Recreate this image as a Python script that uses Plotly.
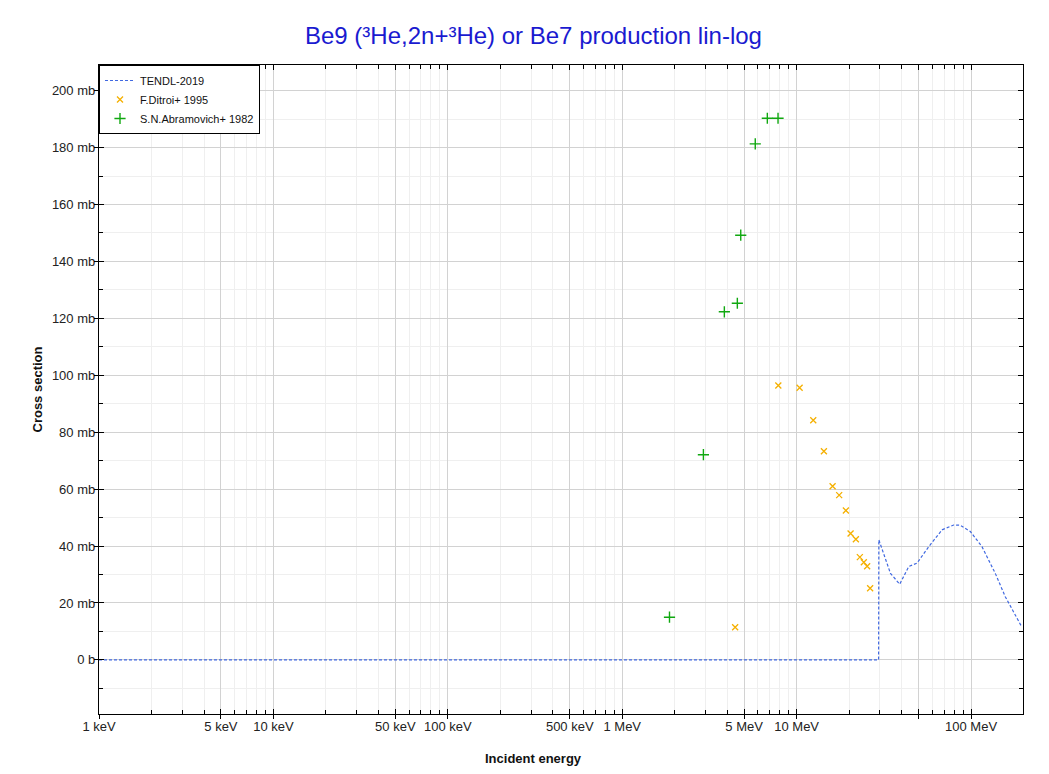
import plotly.graph_objects as go
import numpy as np

# ---------------- data (energies in MeV, cross sections in mb) ----------------
tendl_energy = [0.001, 29.5, 29.6, 34.5, 39.0, 43.9, 49.0, 57.2, 68.2, 79.5, 86.9,
                99.1, 115.5, 137.7, 157.1, 194.1]
tendl_xs = [0.0, 0.0, 42.2, 30.4, 26.6, 32.8, 34.0, 39.8, 45.7, 47.4, 47.3,
            45.1, 39.8, 30.4, 22.2, 11.9]

ditroi_energy = [4.44, 7.85, 10.4, 12.45, 14.33, 16.07, 17.53, 19.15, 20.38,
                 21.85, 23.03, 24.27, 25.36, 26.38]
ditroi_xs = [11.5, 96.4, 95.6, 84.2, 73.3, 61.0, 57.9, 52.5, 44.4,
             42.4, 36.1, 34.3, 32.9, 25.2]

abram_energy = [1.866, 2.92, 3.85, 4.57, 4.78, 5.79, 6.79, 7.82]
abram_xs = [15.0, 72.1, 122.3, 125.3, 149.2, 181.3, 190.3, 190.3]

x_major_vals = [0.001, 0.005, 0.01, 0.05, 0.1, 0.5, 1, 5, 10, 50, 100]
x_major_text = ["1 keV", "5 keV", "10 keV", "50 keV", "100 keV", "500 keV",
                "1 MeV", "5 MeV", "10 MeV", "", "100 MeV"]
y_major_vals = [0, 20, 40, 60, 80, 100, 120, 140, 160, 180, 200]
y_major_text = ["0 b", "20 mb", "40 mb", "60 mb", "80 mb", "100 mb", "120 mb",
                "140 mb", "160 mb", "180 mb", "200 mb"]

x_range_log = [-3, np.log10(198.5)]
y_range = [-19, 209]

x_minor_vals = []
for dec in [0.001, 0.01, 0.1, 1, 10, 100]:
    for m in [2, 3, 4, 6, 7, 8, 9]:
        v = dec * m
        if v <= 198.5:
            x_minor_vals.append(v)
y_minor_vals = [-10] + [v + 10 for v in y_major_vals[:-1]]

FONT = "Liberation Sans, Arial, sans-serif"

fig = go.Figure()
fig.add_trace(go.Scatter(
    x=tendl_energy, y=tendl_xs, mode="lines", name="TENDL-2019",
    line=dict(color="#4169e1", width=1.2, dash="3px,2px")))
fig.add_trace(go.Scatter(
    x=ditroi_energy, y=ditroi_xs, mode="markers", name="F.Ditroi+ 1995",
    marker=dict(symbol="x-thin", size=6, line=dict(color="#f5b000", width=1.3),
                color="#f5b000")))
fig.add_trace(go.Scatter(
    x=abram_energy, y=abram_xs, mode="markers", name="S.N.Abramovich+ 1982",
    marker=dict(symbol="cross-thin", size=8, line=dict(color="#10a810", width=1.4),
                color="#10a810")))
# dummy trace for overlay axes (outside tick extensions)
fig.add_trace(go.Scatter(x=[None], y=[None], xaxis="x2", yaxis="y2",
                         showlegend=False, hoverinfo="skip"))

fig.update_layout(
    width=1049, height=774,
    paper_bgcolor="white", plot_bgcolor="white",
    margin=dict(l=91, r=34, t=57, b=68),
    font=dict(family=FONT, size=13, color="#222"),
    showlegend=True,
    legend=dict(x=0, y=1, xanchor="left", yanchor="top",
                bgcolor="white", bordercolor="black", borderwidth=1,
                font=dict(size=11, color="#111"), tracegroupgap=0,
                itemwidth=30),
    xaxis=dict(
        type="log", range=x_range_log,
        tickmode="array", tickvals=x_major_vals, ticktext=x_major_text,
        ticks="inside", ticklen=5, tickcolor="black",
        showline=True, linecolor="black", linewidth=1.3, mirror="allticks",
        showgrid=True, gridcolor="#d2d2d2", gridwidth=1, zeroline=False,
        tickfont=dict(size=13, color="#222"),
        minor=dict(tickvals=x_minor_vals, ticks="inside", ticklen=4,
                   tickcolor="black", showgrid=True, gridcolor="#efefef"),
    ),
    yaxis=dict(
        range=y_range,
        tickmode="array", tickvals=y_major_vals, ticktext=y_major_text,
        ticks="inside", ticklen=5, tickcolor="black",
        showline=True, linecolor="black", linewidth=1.3, mirror="allticks",
        showgrid=True, gridcolor="#d2d2d2", gridwidth=1, zeroline=False,
        tickfont=dict(size=13, color="#222"),
        minor=dict(tickvals=y_minor_vals, ticks="inside", ticklen=4,
                   tickcolor="black", showgrid=True, gridcolor="#efefef"),
    ),
    xaxis2=dict(
        type="log", range=x_range_log, overlaying="x", anchor="y", side="bottom",
        tickmode="array", tickvals=x_major_vals, ticks="outside", ticklen=4,
        tickcolor="black", showticklabels=False, showgrid=False, zeroline=False,
        showline=False),
    yaxis2=dict(
        range=y_range, overlaying="y", anchor="x", side="left",
        tickmode="array", tickvals=y_major_vals, ticks="outside", ticklen=4,
        tickcolor="black", showticklabels=False, showgrid=False, zeroline=False,
        showline=False),
    annotations=[
        dict(text="Be9 (³He,2n+³He) or Be7 production lin-log",
             xref="paper", yref="paper", x=0.47, y=1, yshift=30,
             xanchor="center", yanchor="middle", showarrow=False,
             font=dict(size=24, color="#1a1ad0", family=FONT)),
        dict(text="<b>Incident energy</b>", xref="paper", yref="paper",
             x=0.47, y=0, yshift=-44, xanchor="center", yanchor="middle",
             showarrow=False, font=dict(size=13, color="#111", family=FONT)),
        dict(text="<b>Cross section</b>", xref="paper", yref="paper",
             x=0, xshift=-62, y=0.5, xanchor="center", yanchor="middle",
             textangle=-90, showarrow=False,
             font=dict(size=13, color="#111", family=FONT)),
    ],
)

fig.write_html("out.html")
